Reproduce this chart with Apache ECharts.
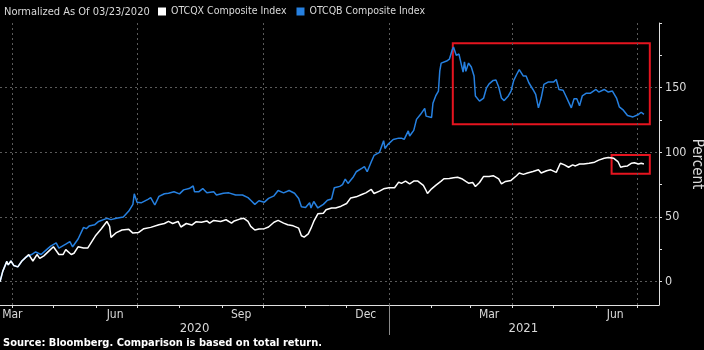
<!DOCTYPE html>
<html>
<head>
<meta charset="utf-8">
<script src="https://cdn.jsdelivr.net/npm/echarts@6/dist/echarts.min.js"></script>
<style>
  html, body { margin: 0; padding: 0; background: #000; }
  #chart { width: 704px; height: 350px; }
</style>
</head>
<body>
<div id="chart"></div>
<script>
// x = days since 03/23/2020, y = percent
const otcqx = [
  [0, 0], [2, 8], [5, 15.7], [6, 13], [8, 16], [10, 12.6], [13, 11.5], [16, 16], [19, 19],
  [21, 21], [24, 16], [27, 21], [29, 18], [32, 20], [36, 24], [39, 27], [43, 21], [46, 21],
  [48, 24.8], [52, 21], [54, 22], [57, 27], [61, 26], [64, 26], [67, 31], [70, 36], [74, 41],
  [78, 46.6], [80, 42.8], [81, 34.3], [85, 38], [89, 40], [94, 40.5], [97, 37.6], [101, 38],
  [105, 41], [110, 42], [116, 44], [120, 45], [123, 46.6], [126, 45], [130, 46.6], [132, 42.3],
  [136, 45], [140, 43.8], [143, 46.3], [147, 46], [151, 47], [153, 45.3], [156, 47.4], [161, 46.6],
  [165, 47.9], [169, 45.3], [171, 47], [175, 48.4], [178, 49], [181, 46.6], [183, 42.8], [186, 40],
  [189, 40.7], [193, 41], [196, 42.3], [200, 46], [203, 47.4], [207, 45.3], [210, 44], [214, 43.2],
  [218, 41.4], [220, 35.5], [222, 34.5], [225, 37], [227, 41.4], [229, 46.6], [232, 52.5], [236, 53],
  [238, 55.6], [242, 57], [245, 57], [249, 58.4], [253, 60.5], [256, 64.8], [260, 65.6], [264, 67.4],
  [267, 68.7], [271, 71.3], [273, 68.2], [277, 70], [280, 71.8], [284, 72.6], [288, 72.6], [291, 77],
  [293, 76], [296, 77.8], [299, 75.7], [302, 77.8], [305, 77.8], [309, 74.5], [311, 70.5], [312, 68.2],
  [315, 71.8], [318, 74.5], [322, 77.8], [324, 79.6], [328, 79.8], [331, 80.4], [334, 80.8], [337, 79.6],
  [340, 77.5], [342, 76.2], [345, 76.7], [347, 73.6], [350, 76.7], [353, 81.4], [357, 81.4], [360, 82],
  [364, 79.5], [366, 75.7], [369, 77.5], [373, 78.3], [377, 81.9], [379, 84], [382, 83], [385, 84],
  [389, 85.2], [393, 86.5], [395, 84], [399, 85.8], [402, 86.5], [406, 84.5], [409, 91.6], [412, 90.3],
  [415, 88.5], [418, 90.3], [420, 89.5], [423, 91], [426, 91], [430, 91.6], [434, 92.4], [437, 94],
  [441, 95.4], [444, 96], [448, 95.4], [451, 92.9], [453, 88.5], [455, 89], [458, 89.5], [461, 91.6],
  [463, 92], [466, 91], [468, 91.6], [470, 91]
];
const otcqb = [
  [0, 0], [2, 8], [5, 15.7], [6, 13], [8, 16], [10, 12.6], [13, 11.5], [16, 16], [19, 19],
  [23, 21], [26, 23], [30, 21], [34, 24.8], [37, 27.5], [41, 30], [43, 26], [48, 29], [51, 31],
  [53, 27], [57, 33], [61, 42], [63, 41], [65, 43], [69, 44], [72, 46.6], [78, 49], [81, 48],
  [85, 49], [90, 50], [94, 54.6], [97, 59.8], [98, 68], [100, 61.5], [103, 61], [108, 63.7],
  [110, 65], [113, 59.3], [116, 66], [120, 68], [123, 68.4], [127, 69.5], [131, 67.9], [134, 71],
  [138, 72], [141, 74], [142, 69.5], [145, 69.5], [148, 72], [151, 68.7], [156, 69.5], [158, 67],
  [163, 68.4], [167, 68.7], [172, 67], [177, 67], [181, 65], [183, 63], [186, 59.8], [189, 62.6],
  [193, 61.5], [196, 64.4], [200, 66.4], [203, 70.5], [207, 68.7], [211, 70.5], [215, 68.4], [218, 64.4],
  [220, 58], [223, 57.4], [226, 61], [227, 57], [229, 62], [232, 57], [236, 59.8], [239, 63],
  [242, 64], [244, 72.6], [248, 73.7], [250, 75], [252, 79.3], [254, 76], [258, 81.2], [260, 85],
  [264, 87.6], [266, 89], [268, 85], [271, 92.7], [273, 97.6], [277, 100], [280, 109], [281, 103],
  [283, 106], [287, 110], [291, 111], [293, 111], [295, 110], [298, 116.6], [299, 112.6], [302, 117],
  [304, 125.5], [307, 129.4], [310, 134], [311, 128], [315, 127], [316, 138], [318, 143.6], [320, 147.4],
  [321, 163], [322, 169], [326, 170.6], [328, 172], [330, 179], [331, 181.5], [333, 175], [335, 176],
  [338, 162], [339, 170], [340, 162.6], [342, 169], [344, 166], [346, 159], [347, 143.6], [350, 139.6],
  [353, 142], [355, 149.6], [357, 153], [360, 155.6], [362, 156], [364, 150.5], [366, 142], [368, 140],
  [371, 143.6], [373, 147.4], [375, 155.6], [377, 160], [379, 164], [382, 159], [384, 159], [386, 153.8],
  [389, 148.6], [391, 144.8], [393, 134.4], [395, 142], [397, 152.5], [400, 154.3], [404, 154.3], [406, 156.3],
  [408, 148.6], [411, 148], [413, 143.6], [417, 134.4], [419, 141.4], [421, 141.4], [423, 136], [425, 143.6],
  [428, 145.7], [431, 145.7], [435, 148.6], [437, 146.6], [441, 148.6], [444, 146.6], [447, 147.4], [450, 142],
  [452, 135.2], [455, 132.6], [458, 128.5], [462, 127.4], [463, 126.7], [466, 129.3], [468, 131], [470, 129.3]
];
const monthStarts = [9, 39, 70, 100, 131, 162, 192, 223, 253, 284, 315, 343, 374, 404, 435, 465];
const quarterStarts = [9, 100, 192, 284, 374, 465];
const monthLabelDays = [9, 84, 176, 267, 357, 449];
const monthLabels = ['Mar', 'Jun', 'Sep', 'Dec', 'Mar', 'Jun'];
const yearLabelDays = [142, 382];
const yearLabels = ['2020', '2021'];
const yearBreak = [284];
const yLabels = [0, 50, 100, 150];
const yTicks = [0, 25, 50, 75, 100, 125, 150, 175, 200];
// annotation boxes [x0, y0, x1, y1]
const bigBox = [330.5, 121.8, 474.3, 184.3];
const smallBox = [446.4, 83.4, 474.3, 98];

const FONT = "'DejaVu Sans Condensed', 'Liberation Sans', sans-serif";
const TXT = '#d9d9d9';

let chart = echarts.init(document.getElementById('chart'));
const option = {
  backgroundColor: '#000',
  animation: false,
  title: {
    text: 'Normalized As Of 03/23/2020',
    left: 4, top: 7, padding: 0,
    textStyle: { color: TXT, fontSize: 11, fontWeight: 'normal', fontFamily: FONT }
  },
  legend: {
    data: ['OTCQX Composite Index', 'OTCQB Composite Index'],
    left: 158, top: 6, padding: 0,
    icon: 'rect', itemWidth: 8, itemHeight: 8, itemGap: 10,
    textStyle: { color: TXT, fontSize: 10.5, fontFamily: FONT }
  },
  grid: { left: 0, right: 45, top: 23, bottom: 45, containLabel: false, outerBoundsMode: 'none' },
  xAxis: [
    {
      type: 'value', min: 0, max: 481,
      axisLine: { show: true, onZero: false, lineStyle: { color: '#e0e0e0', width: 1 } },
      axisTick: { show: true, customValues: monthStarts, length: 3, lineStyle: { color: '#e0e0e0' } },
      axisLabel: {
        customValues: monthLabelDays, margin: 4,
        color: TXT, fontSize: 12, fontFamily: FONT,
        formatter: v => monthLabels[monthLabelDays.indexOf(v)]
      },
      splitLine: { show: false }
    },
    {
      type: 'value', min: 0, max: 481, position: 'bottom', offset: 0,
      axisLine: { show: false, onZero: false },
      axisTick: { show: true, customValues: yearBreak, length: 30, lineStyle: { color: '#8a8a8a' } },
      axisLabel: {
        customValues: yearLabelDays, margin: 17,
        color: TXT, fontSize: 13, fontFamily: FONT,
        formatter: v => yearLabels[yearLabelDays.indexOf(v)]
      },
      splitLine: { show: false }
    }
  ],
  yAxis: {
    type: 'value', position: 'right', min: -18, max: 200,
    name: 'Percent', nameLocation: 'middle', nameRotate: -90, nameGap: 30,
    nameMoveOverlap: false,
    nameTextStyle: { color: TXT, fontSize: 15, fontFamily: FONT },
    axisLine: { show: true, onZero: false, lineStyle: { color: '#e0e0e0', width: 1 } },
    axisTick: { show: true, customValues: yTicks, length: 3, lineStyle: { color: '#e0e0e0' } },
    axisLabel: { customValues: yLabels, margin: 6, color: TXT, fontSize: 12.5, fontFamily: FONT },
    splitLine: { show: false }
  },
  series: [
    {
      name: 'grid', type: 'line', data: [], silent: true,
      markLine: {
        silent: true, symbol: 'none', z: 1, animation: false,
        label: { show: false },
        lineStyle: { color: '#5a5a5a', type: [2, 3], width: 1 },
        data: quarterStarts.map(d => ({ xAxis: d })).concat(yLabels.map(v => ({ yAxis: v })))
      },
      markArea: {
        silent: true,
        itemStyle: { color: 'rgba(0,0,0,0)', borderColor: '#e5141f', borderWidth: 2 },
        data: [
          [{ coord: [bigBox[0], bigBox[1]] }, { coord: [bigBox[2], bigBox[3]] }],
          [{ coord: [smallBox[0], smallBox[1]] }, { coord: [smallBox[2], smallBox[3]] }]
        ]
      }
    },
    {
      name: 'OTCQB Composite Index', type: 'line', data: otcqb, z: 2,
      showSymbol: false, lineStyle: { color: '#2680e0', width: 1.5 },
      itemStyle: { color: '#2680e0' }
    },
    {
      name: 'OTCQX Composite Index', type: 'line', data: otcqx, z: 3,
      showSymbol: false, lineStyle: { color: '#ffffff', width: 1.5 },
      itemStyle: { color: '#ffffff' }
    }
  ],
  graphic: [{
    type: 'text', left: 3, top: 338,
    style: { text: 'Source: Bloomberg. Comparison is based on total return.', fill: '#ffffff', font: 'bold 11px ' + FONT }
  }]
};
chart.setOption(option);
</script>
</body>
</html>
